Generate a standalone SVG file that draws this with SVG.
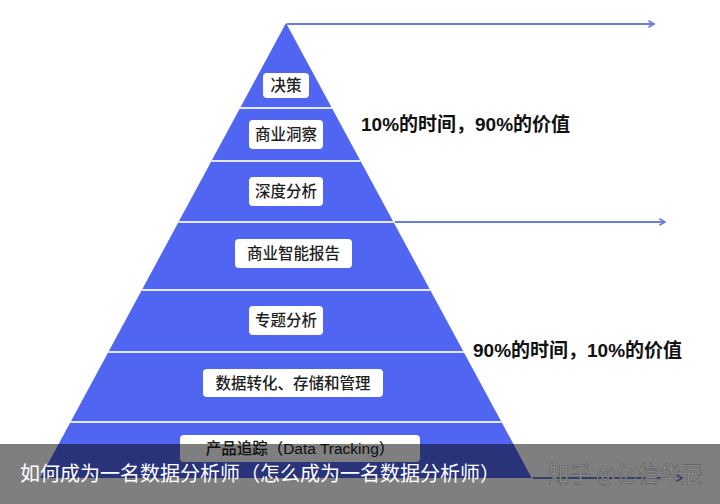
<svg xmlns="http://www.w3.org/2000/svg" width="720" height="504" viewBox="0 0 720 504">
<defs>
<style>
.band{stroke:#e4e8fc;stroke-width:2}
.box{fill:#ffffff}
.lbl{font-family:"Liberation Sans","Noto Sans CJK SC",sans-serif;font-size:15.5px;font-weight:500;fill:#1e1e1e;text-anchor:middle;dominant-baseline:central}
.note{font-family:"Liberation Sans","Noto Sans CJK SC",sans-serif;font-size:19px;font-weight:bold;fill:#111}
.arrow{stroke:#6d7ddb;stroke-width:2;fill:none}
</style>
<marker id="ah" viewBox="0 0 10 10" refX="8" refY="5" markerWidth="4" markerHeight="4" orient="auto" markerUnits="strokeWidth">
<path d="M1,1 L8,5 L1,9" fill="none" stroke="#6d7ddb" stroke-width="2"/>
</marker>
</defs>
<rect width="720" height="504" fill="#ffffff"/>
<g id="pyramid">
<polygon points="286,23 531.7,478 40.3,478" fill="#5066f2"/>
<line class="band" x1="240.1" y1="108" x2="331.9" y2="108"/>
<line class="band" x1="211.5" y1="161" x2="360.5" y2="161"/>
<line class="band" x1="178.5" y1="222" x2="393.5" y2="222"/>
<line class="band" x1="141.8" y1="290" x2="430.2" y2="290"/>
<line class="band" x1="108.3" y1="352" x2="463.7" y2="352"/>
<line class="band" x1="70.5" y1="422" x2="501.5" y2="422"/>
</g>
<g id="connectors">
<line class="arrow" x1="287" y1="24" x2="654" y2="24" marker-end="url(#ah)"/>
<line class="arrow" x1="395" y1="222" x2="665" y2="222" marker-end="url(#ah)"/>
<line class="arrow" x1="533" y1="478" x2="682" y2="478" marker-end="url(#ah)"/>
</g>
<g id="n1"><rect class="box" x="263" y="73" width="46" height="25" rx="4"/><text class="lbl" x="286" y="85.5">决策</text></g>
<g id="n2"><rect class="box" x="249" y="120" width="74" height="29" rx="4"/><text class="lbl" x="286" y="134.5">商业洞察</text></g>
<g id="n3"><rect class="box" x="249" y="177" width="74" height="29" rx="4"/><text class="lbl" x="286" y="191.5">深度分析</text></g>
<g id="n4"><rect class="box" x="235" y="239" width="117" height="29" rx="4"/><text class="lbl" x="293.5" y="253.5">商业智能报告</text></g>
<g id="n5"><rect class="box" x="249" y="306" width="74" height="29" rx="4"/><text class="lbl" x="286" y="320.5">专题分析</text></g>
<g id="n6"><rect class="box" x="203" y="369" width="180" height="28" rx="4"/><text class="lbl" x="293" y="383">数据转化、存储和管理</text></g>
<g id="n7"><rect class="box" x="180" y="435" width="240" height="27" rx="4"/><text class="lbl" x="300" y="448.5">产品追踪（Data Tracking）</text></g>
<g id="notes">
<text class="note" x="361" y="131">10%的时间，90%的价值</text>
<text class="note" x="473" y="357">90%的时间，10%的价值</text>
</g>
<rect x="0" y="444" width="720" height="60" fill="#000000" fill-opacity="0.5"/>
<text x="20" y="481" font-family="Noto Sans CJK SC,sans-serif" font-size="20" fill="#ffffff">如何成为一名数据分析师（怎么成为一名数据分析师）</text>
<text x="548" y="482" font-family="Noto Sans CJK SC,sans-serif" font-size="21.5" fill="#9c9c9c" stroke="#5a5a5a" stroke-width="0.6">知乎 @亿信华辰</text>
</svg>
